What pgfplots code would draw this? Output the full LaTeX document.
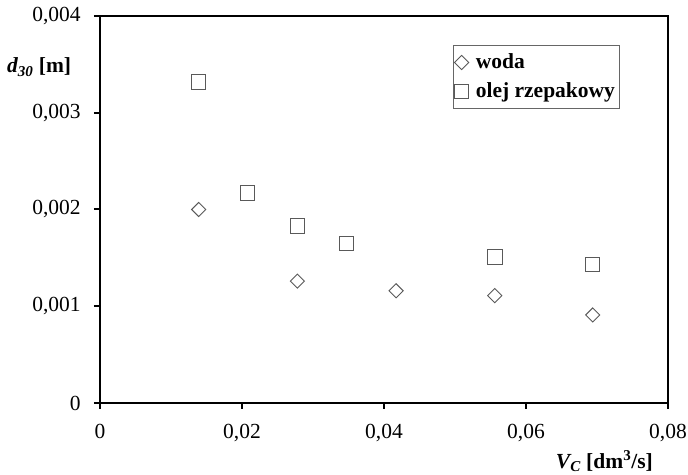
\documentclass[border=0pt]{standalone}
\usepackage{pgfplots}
\pgfplotsset{compat=1.18}
\usepackage{fontspec}
\setmainfont{Liberation Serif}
\begin{document}
\fontsize{21.5}{25}\selectfont
\begin{tikzpicture}[x=1pt,y=1pt]
\begin{axis}[
  at={(100pt,71pt)}, anchor=south west,
  width=568pt, height=387pt, scale only axis=true,
  xmin=0, xmax=0.08, ymin=0, ymax=0.004,
  xtick={0,0.02,0.04,0.06,0.08},
  ytick={0,0.001,0.002,0.003,0.004},
  scaled x ticks=false, scaled y ticks=false,
  xticklabel style={/pgf/number format/fixed, /pgf/number format/precision=2, /pgf/number format/use comma, /pgf/number format/assume math mode=true, yshift=-8pt},
  yticklabel style={/pgf/number format/fixed, /pgf/number format/precision=3, /pgf/number format/use comma, /pgf/number format/assume math mode=true, xshift=-6pt},
  tick align=outside, tick pos=left,
  major tick length=6pt,
  tick style={black, line width=2pt},
  axis line style={black, line width=2.4pt},
  legend style={at={(rel axis cs:0.6215,0.925)}, anchor=north west, draw=gray!80!black, line width=0.8pt,
    font=\bfseries, inner xsep=1pt, inner ysep=5pt, row sep=5pt, legend cell align=left,
    nodes={inner xsep=3pt, inner ysep=3pt},
    /tikz/every odd column/.append style={column sep=4pt}},
  clip=false,
]
\addplot[only marks, mark=square, mark size=5pt, mark options={rotate=45, draw=black!65, line width=0.9pt}]
  coordinates {(0.0139,0.00200) (0.0278,0.00126) (0.0417,0.00116) (0.0556,0.00111) (0.0694,0.00091)};
\addlegendentry{woda}
\addplot[only marks, mark=square, mark size=7.2pt, mark options={draw=black!65, line width=0.9pt}]
  coordinates {(0.0139,0.00332) (0.0208,0.00217) (0.0278,0.00183) (0.0347,0.00165) (0.0556,0.00151) (0.0694,0.00143)};
\addlegendentry{olej rzepakowy}
\node[anchor=west, inner sep=0pt, xshift=-93pt] at (rel axis cs:0,0.868)
  {\bfseries\itshape d\textsubscript{30}\upshape\ [m]};
\node[anchor=base east, inner sep=0pt, xshift=-15pt, yshift=-65pt] at (rel axis cs:1,0)
  {\bfseries\itshape V\textsubscript{C}\upshape\ [dm\textsuperscript{3}/s]};
\end{axis}
\pgfresetboundingbox
\path[use as bounding box] (0,0) rectangle (688,474);
\end{tikzpicture}
\end{document}
